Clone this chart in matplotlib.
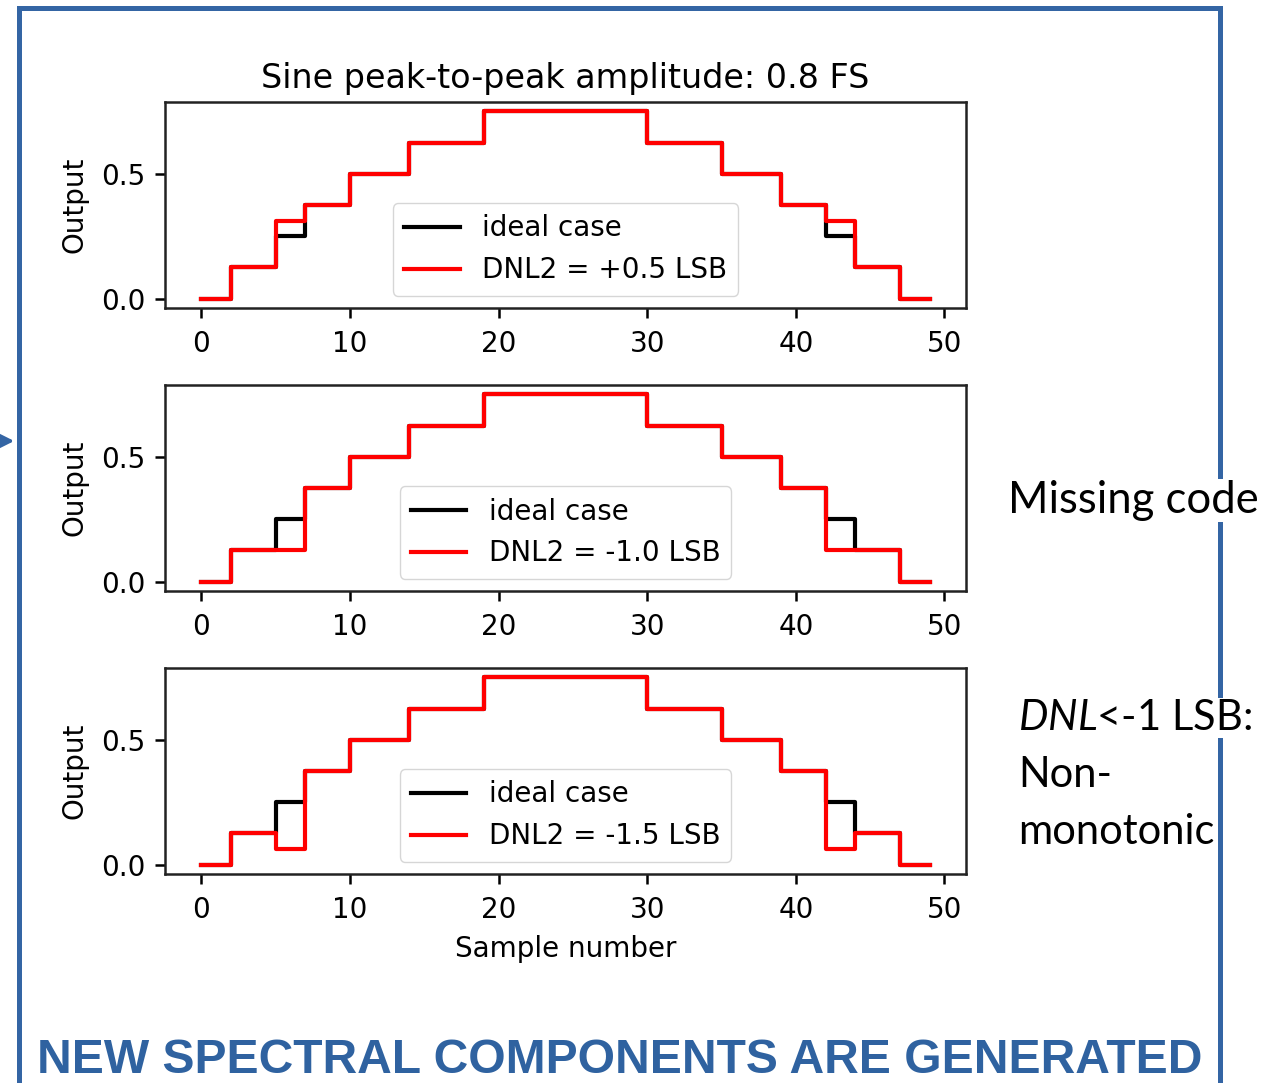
import numpy as np
import matplotlib.pyplot as plt
from matplotlib.lines import Line2D
from matplotlib.patches import FancyArrowPatch

# step edges (sample numbers) and held output levels
edges = [0, 2, 5, 7, 10, 14, 19, 30, 35, 39, 42, 44, 47, 49]
ideal = [0, 0.125, 0.25, 0.375, 0.5, 0.625, 0.75, 0.625, 0.5, 0.375, 0.25, 0.125, 0, 0]
dnl_p05 = [0, 0.125, 0.3125, 0.375, 0.5, 0.625, 0.75, 0.625, 0.5, 0.375, 0.3125, 0.125, 0, 0]
dnl_m10 = [0, 0.125, 0.125, 0.375, 0.5, 0.625, 0.75, 0.625, 0.5, 0.375, 0.125, 0.125, 0, 0]
dnl_m15 = [0, 0.125, 0.0625, 0.375, 0.5, 0.625, 0.75, 0.625, 0.5, 0.375, 0.0625, 0.125, 0, 0]
labels = ["DNL2 = +0.5 LSB", "DNL2 = -1.0 LSB", "DNL2 = -1.5 LSB"]
series = [dnl_p05, dnl_m10, dnl_m15]

W, H = 1268, 1083
fs = 20
blue = '#3465A4'

plt.rcParams['font.family'] = 'DejaVu Sans'
plt.rcParams['mathtext.fontset'] = 'custom'
plt.rcParams['mathtext.it'] = 'Lato:italic'
plt.rcParams['mathtext.rm'] = 'Lato'

fig = plt.figure(figsize=(W / 100, H / 100), dpi=100)

tops = [102, 385, 668]  # axes top edges in pixels
for i, top in enumerate(tops):
    ax = fig.add_axes([165 / W, 1 - (top + 206) / H, 801 / W, 206 / H])
    ax.step(edges, ideal, where='post', color='black', lw=3, label='ideal case')
    ax.step(edges, series[i], where='post', color='red', lw=3, label=labels[i])
    ax.set_xticks([0, 10, 20, 30, 40, 50])
    ax.set_yticks([0.0, 0.5])
    ax.set_yticklabels(['0.0', '0.5'])
    ax.tick_params(labelsize=fs, width=1.8, length=7, pad=7)
    ax.tick_params(axis='x', pad=9)
    for s in ax.spines.values():
        s.set_linewidth(1.8)
        s.set_color('#222222')
    ax.set_ylabel('Output', fontsize=fs)
    ax.yaxis.set_label_coords(-0.096, 0.5)
    ax.legend(loc='lower center', fontsize=fs, borderaxespad=0.45)
    if i == 0:
        ax.set_title('Sine peak-to-peak amplitude: 0.8 FS', fontsize=24, pad=10)
    if i == 2:
        ax.set_xlabel('Sample number', fontsize=fs, labelpad=8)

# blue frame
frame = Line2D([18.5 / W, 18.5 / W, 1219.5 / W, 1219.5 / W],
               [0, 1 - 7.5 / H, 1 - 7.5 / H, 0],
               transform=fig.transFigure, color=blue, lw=3.6,
               solid_joinstyle='miter')
fig.add_artist(frame)
arrow = FancyArrowPatch((0, 1 - 441 / H), (17 / W, 1 - 441 / H),
                        transform=fig.transFigure, arrowstyle='-|>',
                        mutation_scale=22, color=blue, lw=2.5)
fig.add_artist(arrow)

box = dict(facecolor='white', edgecolor='none', pad=1)
fig.text(1008 / W, 1 - 513 / H, 'Missing code', fontsize=31.4, family='Lato',
         va='baseline', bbox=box)
fig.text(1018 / W, 1 - 730 / H, r'$\it{DNL}$<-1 LSB:', fontsize=30, family='Lato',
         va='baseline', bbox=box)
fig.text(1018 / W, 1 - 787 / H, 'Non-', fontsize=30, family='Lato',
         va='baseline', bbox=box)
fig.text(1018 / W, 1 - 844 / H, 'monotonic', fontsize=30, family='Lato',
         va='baseline', bbox=box)

fig.text(620 / W, 1 - 1073 / H, 'NEW SPECTRAL COMPONENTS ARE GENERATED',
         fontsize=34.6, family='Liberation Sans', weight='bold', color='#2F62A0',
         ha='center', va='baseline')

fig.savefig('out.png', dpi=100)
